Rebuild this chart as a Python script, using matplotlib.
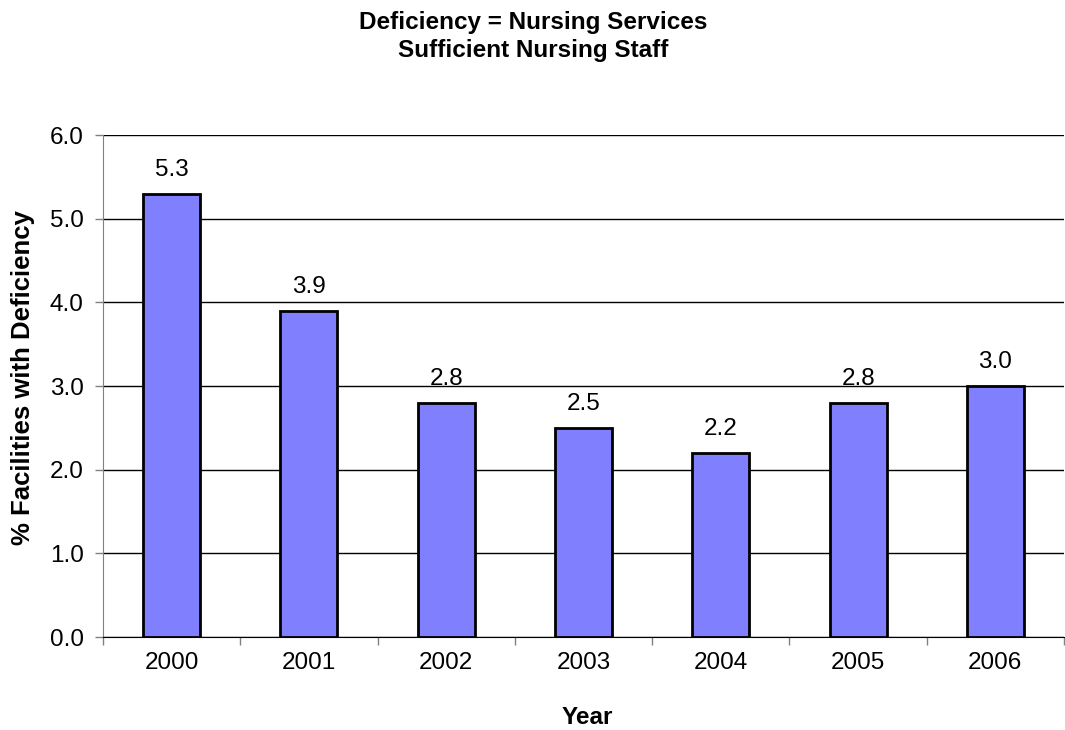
import matplotlib
matplotlib.use("Agg")
import matplotlib.pyplot as plt
import numpy as np

years = ["2000", "2001", "2002", "2003", "2004", "2005", "2006"]
values = [5.3, 3.9, 2.8, 2.5, 2.2, 2.8, 3.0]
yticks = [0.0, 1.0, 2.0, 3.0, 4.0, 5.0, 6.0]

plt.rcParams['font.family'] = ['Liberation Sans', 'DejaVu Sans']

W, H = 1065, 730
fig = plt.figure(figsize=(W/100, H/100), dpi=100)
ax = fig.add_axes([103/W, 1-637/H, 961/W, (637-135)/H])

x = np.arange(len(years))
ax.bar(x, values, width=0.415, color="#8080FF", edgecolor="black", linewidth=2, zorder=3)
for xi, v in zip(x, values):
    ax.annotate(f"{v:.1f}", (xi, v), xytext=(0, 13), textcoords="offset points",
                ha="center", va="baseline", fontsize=17.5)

ax.set_xlim(-0.5, len(years) - 0.5)
ax.set_ylim(0, 6)
ax.set_yticks(yticks)
ax.set_yticklabels([f"{t:.1f}" for t in yticks], fontsize=17.5)
ax.set_xticks(x)
ax.set_xticklabels(years, fontsize=17.5)
ax.tick_params(axis="x", length=0, pad=11)
ax.set_xticks(np.arange(len(years) + 1) - 0.5, minor=True)
ax.tick_params(axis="x", which="minor", length=6, color="#808080", width=1)
ax.tick_params(axis="y", length=6, color="#808080", width=1, pad=8)

ax.grid(axis="y", color="black", linewidth=1, zorder=0)
for s in ["top", "right"]:
    ax.spines[s].set_visible(False)
ax.spines["left"].set_color("#808080")
ax.spines["bottom"].set_color("black")

fig.text(23/W, 1-378/H, "% Facilities with Deficiency", rotation=90, ha="center", va="center",
         fontsize=18.5, fontweight="bold")
fig.text(587/W, 1-717/H, "Year", ha="center", va="center", fontsize=17.5, fontweight="bold")

fig.text(533/W, 1-22/H, "Deficiency = Nursing Services", ha="center", va="center", fontsize=17.5, fontweight="bold")
fig.text(533/W, 1-50/H, "Sufficient Nursing Staff", ha="center", va="center", fontsize=17.5, fontweight="bold")

fig.savefig("out.png", dpi=100)
